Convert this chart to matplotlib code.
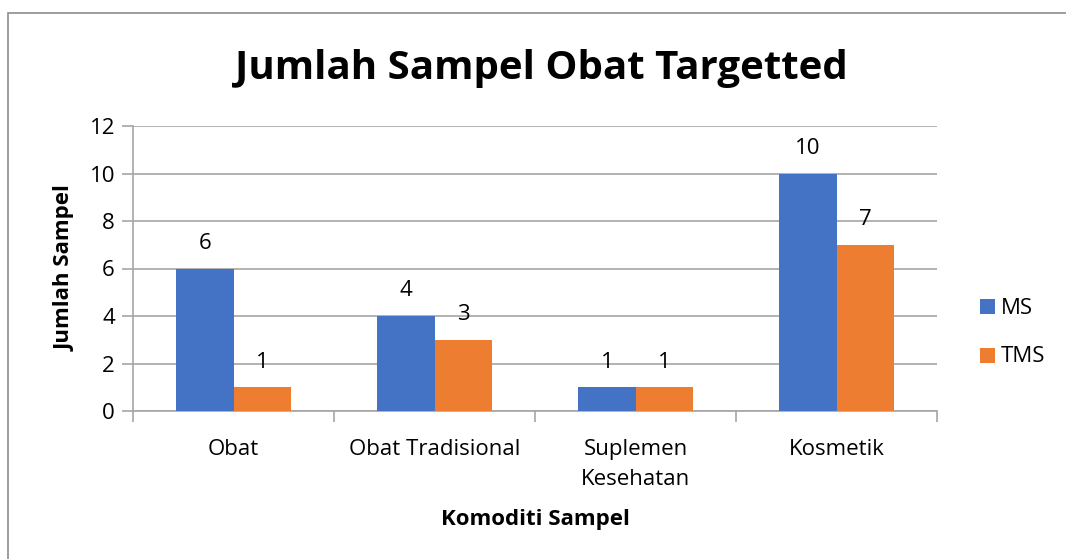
import matplotlib
matplotlib.use("Agg")
import matplotlib.pyplot as plt
import numpy as np
from matplotlib.patches import Rectangle

categories = ["Obat", "Obat Tradisional", "Suplemen\nKesehatan", "Kosmetik"]
ms = [6, 4, 1, 10]
tms = [1, 3, 1, 7]
series_names = ["MS", "TMS"]
colors = ["#4472C4", "#ED7D31"]
yticks = [0, 2, 4, 6, 8, 10, 12]

FONT = "Open Sans"
FS = 16
W, H = 1066, 559
fig = plt.figure(figsize=(W / 100, H / 100), dpi=100)

def fx(px):
    return px / W

def fy(py):
    return 1 - py / H

# outer border
fig.patches.append(Rectangle((fx(7.5), fy(1000)), fx(1200), fy(13) - fy(1000),
                             transform=fig.transFigure, fill=False,
                             edgecolor="#8c8c8c", linewidth=1.2))

ax = fig.add_axes([fx(133), fy(411), fx(937) - fx(133), fy(126) - fy(411)])
x = np.arange(len(categories))
bw = 0.284
b1 = ax.bar(x - bw / 2, ms, bw, color=colors[0], zorder=3, label=series_names[0])
b2 = ax.bar(x + bw / 2, tms, bw, color=colors[1], zorder=3, label=series_names[1])

for bars, vals in ((b1, ms), (b2, tms)):
    for b, v in zip(bars, vals):
        ax.annotate(str(v), (b.get_x() + b.get_width() / 2, v), xytext=(0, 18),
                    textcoords="offset points", ha="center", va="center",
                    fontsize=FS, family=FONT, color="#000000")

ax.set_xlim(-0.5, len(categories) - 0.5)
ax.set_ylim(0, 12)
ax.set_yticks(yticks)
ax.set_yticklabels([str(t) for t in yticks], fontsize=FS, family=FONT)
ax.grid(axis="y", color="#a6a6a6", linewidth=1.2, zorder=0)
for s in ["top", "right"]:
    ax.spines[s].set_visible(False)
ax.spines["left"].set_color("#a6a6a6")
ax.spines["bottom"].set_color("#a6a6a6")
ax.spines["left"].set_linewidth(1.2)
ax.spines["bottom"].set_linewidth(1.2)
ax.tick_params(axis="y", length=8, color="#a6a6a6", width=1.2, pad=5)
ax.set_xticks(np.arange(len(categories) + 1) - 0.5)
ax.set_xticklabels([])
ax.tick_params(axis="x", length=8, color="#a6a6a6", width=1.2)
for i, c in enumerate(categories):
    ax.annotate(c, (i, 0), xytext=(0, -20), textcoords="offset points",
                ha="center", va="top", fontsize=FS, family=FONT, linespacing=1.55)

ax.set_ylabel("Jumlah Sampel", fontsize=FS, family=FONT, fontweight="bold", labelpad=10)
fig.text(fx(535), fy(520), "Komoditi Sampel", ha="center", va="center",
         fontsize=FS, family=FONT, fontweight="bold")
fig.text(fx(541), fy(69), "Jumlah Sampel Obat Targetted", ha="center", va="center",
         fontsize=29, family=FONT, fontweight="bold")

# legend
for i, (name, col) in enumerate(zip(series_names, colors)):
    yc = 307 + i * 49
    fig.patches.append(Rectangle((fx(980), fy(yc + 7)), fx(15), fy(yc - 8) - fy(yc + 7),
                                 transform=fig.transFigure, facecolor=col, edgecolor="none"))
    fig.text(fx(1001), fy(yc + 1), name, ha="left", va="center", fontsize=FS, family=FONT)

fig.savefig("out.png", dpi=100)
